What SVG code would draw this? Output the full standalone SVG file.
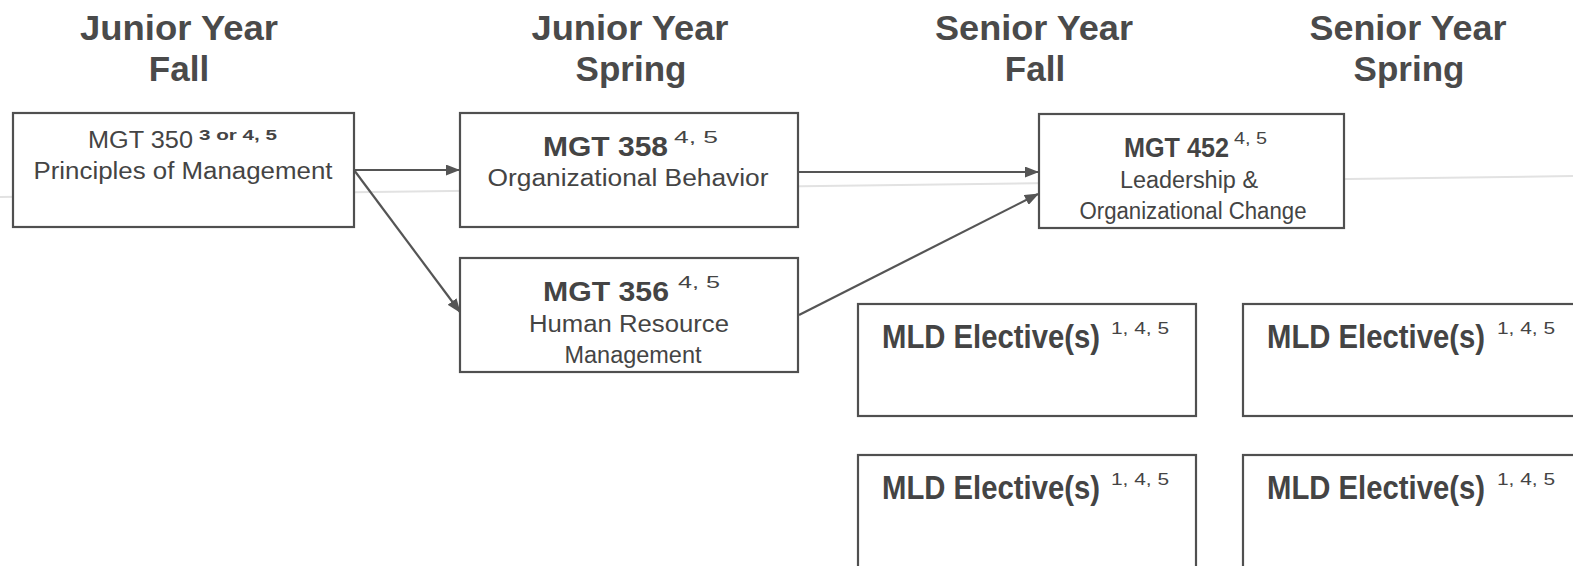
<svg xmlns="http://www.w3.org/2000/svg" width="1573" height="566" viewBox="0 0 1573 566">
<defs>
<style>
.box{fill:#fff;stroke:#505050;stroke-width:2.2}
.hd{font-family:"Liberation Sans",Arial,sans-serif;font-weight:bold;font-size:35px;fill:#4a4a4a;text-anchor:middle}
.t{font-family:"Liberation Sans",Arial,sans-serif;font-size:23px;fill:#444}
.tb{font-family:"Liberation Sans",Arial,sans-serif;font-size:27px;font-weight:bold;fill:#444}
.sup{font-family:"Liberation Sans",Arial,sans-serif;font-size:16px;fill:#444}
.supb{font-family:"Liberation Sans",Arial,sans-serif;font-size:14px;font-weight:bold;fill:#444}
.el{font-family:"Liberation Sans",Arial,sans-serif;font-size:33px;font-weight:bold;fill:#444}
.c{text-anchor:middle}
.conn{stroke:#555;stroke-width:2.2;fill:none;marker-end:url(#ah)}
</style>
<marker id="ah" markerWidth="6.5" markerHeight="5" refX="6" refY="2.5" orient="auto" markerUnits="strokeWidth">
<path d="M0,0 L6.5,2.5 L0,5 z" fill="#555"/>
</marker>
</defs>
<rect width="1573" height="566" fill="#fff"/>
<line x1="0" y1="197" x2="1573" y2="176" stroke="#e2e2e2" stroke-width="2"/>

<g id="headers">
<text class="hd" x="179" y="40" textLength="198" lengthAdjust="spacingAndGlyphs">Junior Year</text>
<text class="hd" x="179" y="81">Fall</text>
<text class="hd" x="630" y="40" textLength="197" lengthAdjust="spacingAndGlyphs">Junior Year</text>
<text class="hd" x="631" y="81">Spring</text>
<text class="hd" x="1034" y="40" textLength="198" lengthAdjust="spacingAndGlyphs">Senior Year</text>
<text class="hd" x="1035" y="81">Fall</text>
<text class="hd" x="1408" y="40" textLength="197" lengthAdjust="spacingAndGlyphs">Senior Year</text>
<text class="hd" x="1409" y="81">Spring</text>
</g>

<g id="connectors">
<line class="conn" x1="354" y1="170" x2="459" y2="170"/>
<line class="conn" x1="354" y1="170" x2="460" y2="312"/>
<line class="conn" x1="798" y1="172" x2="1038" y2="172"/>
<line class="conn" x1="799" y1="315" x2="1038" y2="194"/>
</g>

<g id="mgt350">
<rect class="box" x="13" y="113" width="341" height="114"/>
<text class="t" x="88" y="148" textLength="105" lengthAdjust="spacingAndGlyphs">MGT 350</text>
<text class="supb" x="199" y="140" textLength="78" lengthAdjust="spacingAndGlyphs">3 or 4, 5</text>
<text class="t c" x="183" y="179" textLength="299" lengthAdjust="spacingAndGlyphs">Principles of Management</text>
</g>

<g id="mgt358">
<rect class="box" x="460" y="113" width="338" height="114"/>
<text class="tb" x="543" y="156" textLength="125" lengthAdjust="spacingAndGlyphs">MGT 358</text>
<text class="sup" x="674" y="143" textLength="44" lengthAdjust="spacingAndGlyphs">4, 5</text>
<text class="t c" x="628" y="186" textLength="281" lengthAdjust="spacingAndGlyphs">Organizational Behavior</text>
</g>

<g id="mgt356">
<rect class="box" x="460" y="258" width="338" height="114"/>
<text class="tb" x="543" y="301" textLength="126" lengthAdjust="spacingAndGlyphs">MGT 356</text>
<text class="sup" x="678" y="288" textLength="42" lengthAdjust="spacingAndGlyphs">4, 5</text>
<text class="t c" x="629" y="332" textLength="200" lengthAdjust="spacingAndGlyphs">Human Resource</text>
<text class="t c" x="633" y="363" textLength="137" lengthAdjust="spacingAndGlyphs">Management</text>
</g>

<g id="mgt452">
<rect class="box" x="1039" y="114" width="305" height="114"/>
<text class="tb" x="1124" y="157" textLength="105" lengthAdjust="spacingAndGlyphs">MGT 452</text>
<text class="sup" x="1234" y="144" textLength="33" lengthAdjust="spacingAndGlyphs">4, 5</text>
<text class="t c" x="1189" y="188" textLength="138" lengthAdjust="spacingAndGlyphs">Leadership &amp;</text>
<text class="t c" x="1193" y="219" textLength="227" lengthAdjust="spacingAndGlyphs">Organizational Change</text>
</g>

<g id="elective1">
<rect class="box" x="858" y="304" width="338" height="112"/>
<text class="el" x="882" y="348" textLength="218" lengthAdjust="spacingAndGlyphs">MLD Elective(s)</text>
<text class="sup" x="1111" y="334" textLength="58" lengthAdjust="spacingAndGlyphs">1, 4, 5</text>
</g>

<g id="elective2">
<rect class="box" x="1243" y="304" width="345" height="112"/>
<text class="el" x="1267" y="348" textLength="218" lengthAdjust="spacingAndGlyphs">MLD Elective(s)</text>
<text class="sup" x="1497" y="334" textLength="58" lengthAdjust="spacingAndGlyphs">1, 4, 5</text>
</g>

<g id="elective3">
<rect class="box" x="858" y="455" width="338" height="130"/>
<text class="el" x="882" y="499" textLength="218" lengthAdjust="spacingAndGlyphs">MLD Elective(s)</text>
<text class="sup" x="1111" y="485" textLength="58" lengthAdjust="spacingAndGlyphs">1, 4, 5</text>
</g>

<g id="elective4">
<rect class="box" x="1243" y="455" width="345" height="130"/>
<text class="el" x="1267" y="499" textLength="218" lengthAdjust="spacingAndGlyphs">MLD Elective(s)</text>
<text class="sup" x="1497" y="485" textLength="58" lengthAdjust="spacingAndGlyphs">1, 4, 5</text>
</g>
</svg>
